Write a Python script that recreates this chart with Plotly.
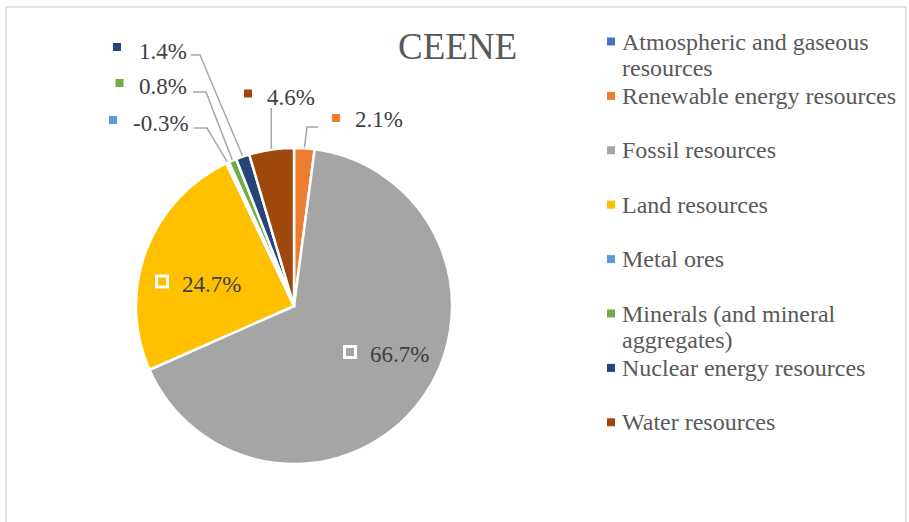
import math
import plotly.graph_objects as go

# ---- data ----
categories = [
    "Atmospheric and gaseous<br>resources",
    "Renewable energy resources",
    "Fossil resources",
    "Land resources",
    "Metal ores",
    "Minerals (and mineral<br>aggregates)",
    "Nuclear energy resources",
    "Water resources",
]
values = [0.0, 2.1, 66.7, 24.7, -0.3, 0.8, 1.4, 4.6]
colors = ["#4472C4", "#ED7D31", "#A5A5A5", "#FFC000", "#5B9BD5", "#70AD47", "#264478", "#9E480E"]
title_text = "CEENE"

# ---- layout helpers (pixel -> paper) ----
W, H = 909, 522
def px(x):
    return x / W
def py(y):
    return 1 - y / H

CX, CY, R = 294, 306, 158
FONT = "Liberation Serif"

draw_vals = [abs(v) for v in values]
slice_colors = [c if v >= 0 else "white" for c, v in zip(colors, values)]

fig = go.Figure()
fig.add_trace(go.Pie(
    labels=[c.replace("<br>", " ") for c in categories],
    values=draw_vals,
    sort=False,
    direction="clockwise",
    rotation=0,
    marker=dict(colors=slice_colors, line=dict(color="white", width=2.5)),
    textinfo="none",
    hoverinfo="label+percent",
    showlegend=False,
    domain=dict(x=[px(CX - R), px(CX + R)], y=[py(CY + R), py(CY - R)]),
))

annotations = []
shapes = []

# chart border
shapes.append(dict(type="rect", xref="paper", yref="paper",
                   x0=px(6), x1=px(906), y0=-0.05, y1=py(7),
                   line=dict(color="#D9D9D9", width=1.5), fillcolor="rgba(0,0,0,0)"))

# title
annotations.append(dict(text=title_text, x=px(457), y=py(47), xref="paper", yref="paper",
                        showarrow=False, xanchor="center", yanchor="middle",
                        font=dict(family=FONT, size=37, color="#595959")))

# legend (manual, Excel-like spacing)
row0, row_gap, line_gap = 41.5, 54.4, 26.5
for i, (name, col) in enumerate(zip(categories, colors)):
    yc = row0 + i * row_gap
    shapes.append(dict(type="rect", xref="paper", yref="paper",
                       x0=px(607), x1=px(615), y0=py(yc + 4), y1=py(yc - 4),
                       fillcolor=col, line=dict(width=0)))
    for j, line in enumerate(name.split("<br>")):
        annotations.append(dict(text=line, x=px(620), y=py(yc + j * line_gap),
                                xref="paper", yref="paper", showarrow=False,
                                xanchor="left", yanchor="middle",
                                font=dict(family=FONT, size=24, color="#595959")))

# slice geometry from data
total = sum(draw_vals)
cum = 0.0
mid_angle = []
for v in draw_vals:
    mid_angle.append((cum + v / 2) / total * 2 * math.pi)
    cum += v

def rim(i, k=1.0):
    a = mid_angle[i]
    return CX + R * k * math.sin(a), CY - R * k * math.cos(a)

# data label placement (layout): text left x, text center y, square center y, leader path
label_layout = {
    1: dict(tx=353, ty=120, sy=118, sx=336, leader=[(318, 127), (307, 127)]),
    4: dict(tx=131, ty=123, sy=120, sx=113, leader=[(194, 128), (207, 128)]),
    5: dict(tx=137, ty=86, sy=83, sx=119.5, leader=[(193, 92), (206, 92)]),
    6: dict(tx=137, ty=51, sy=47, sx=117, leader=[(191, 55), (200, 55)]),
    7: dict(tx=265, ty=97, sy=93.5, sx=248, leader=[("rim", 108)]),
    2: dict(tx=368, ty=354, sy=352, sx=350, inside=True),
    3: dict(tx=180, ty=284, sy=281.5, sx=162, inside=True),
}

for i, L in label_layout.items():
    txt = f"{values[i]:.1f}%"
    annotations.append(dict(text=txt, x=px(L["tx"]), y=py(L["ty"]), xref="paper", yref="paper",
                            showarrow=False, xanchor="left", yanchor="middle",
                            font=dict(family=FONT, size=23, color="#404040")))
    if L.get("inside"):
        s = 7
        shapes.append(dict(type="rect", xref="paper", yref="paper",
                           x0=px(L["sx"] - s + 1.5), x1=px(L["sx"] + s - 1.5),
                           y0=py(L["sy"] + s - 1.5), y1=py(L["sy"] - s + 1.5),
                           fillcolor=colors[i], line=dict(color="white", width=3)))
    else:
        shapes.append(dict(type="rect", xref="paper", yref="paper",
                           x0=px(L["sx"] - 4), x1=px(L["sx"] + 4),
                           y0=py(L["sy"] + 4), y1=py(L["sy"] - 4),
                           fillcolor=colors[i], line=dict(width=0)))
        ex, ey = rim(i, 1.005)
        pts = []
        for (x, y) in L["leader"]:
            pts.append((ex if x == "rim" else x, y))
        pts.append((ex, ey))
        path = "M " + " L ".join(f"{px(x)},{py(y)}" for x, y in pts)
        shapes.append(dict(type="path", xref="paper", yref="paper", path=path,
                           line=dict(color="#A6A6A6", width=1.5)))

fig.update_layout(
    width=W, height=H,
    margin=dict(l=0, r=0, t=0, b=0),
    paper_bgcolor="white",
    plot_bgcolor="white",
    annotations=annotations,
    shapes=shapes,
)

fig.write_html(
    "out.html",
    config={"displayModeBar": False},
    post_script="document.body.style.margin='0';document.body.style.overflow='hidden';",
)
